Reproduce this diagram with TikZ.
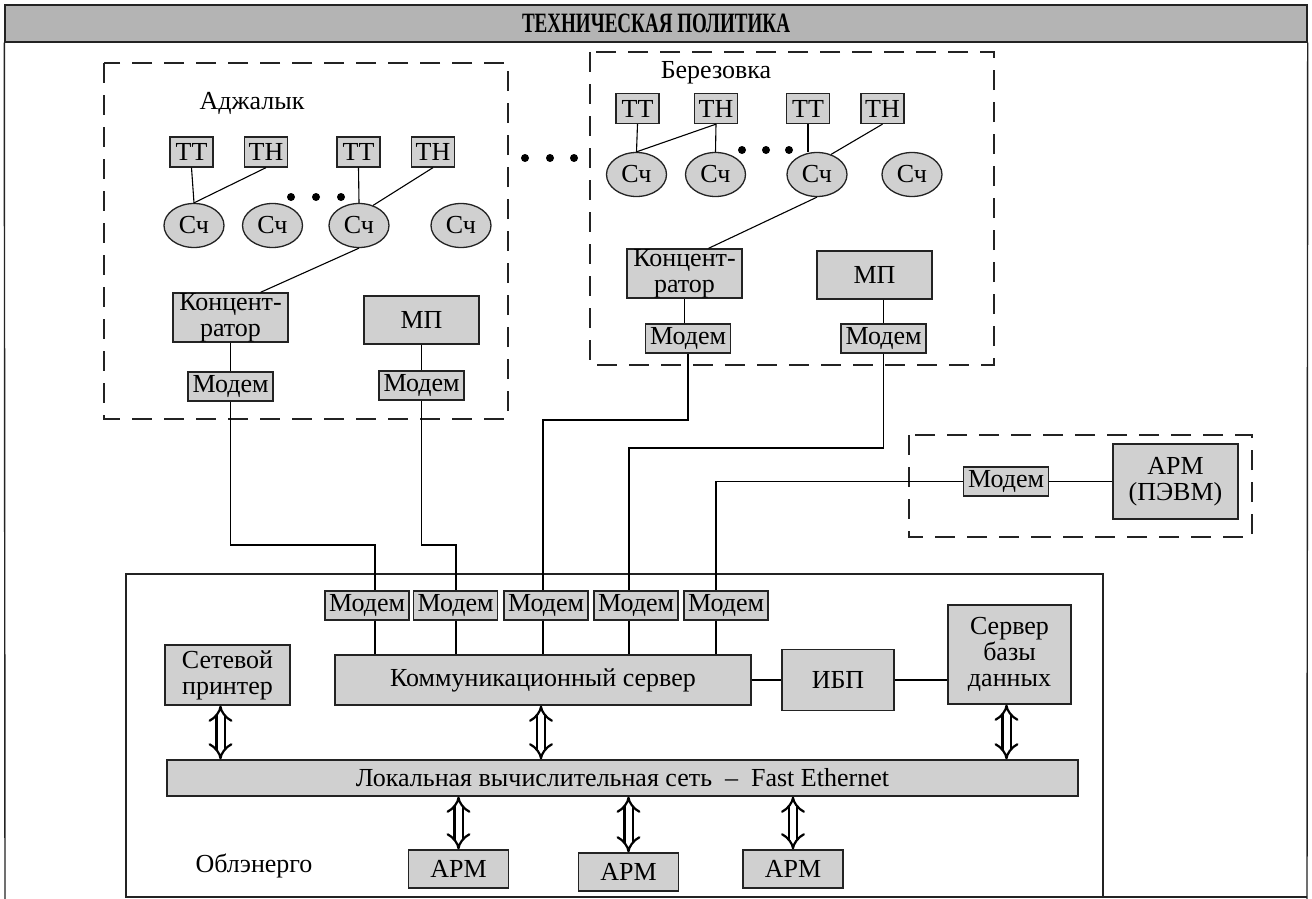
\documentclass[tikz,border=0pt]{standalone}
\usepackage{fontspec}
\setmainfont{Liberation Serif}
\usepackage{graphicx}
\usetikzlibrary{shapes.geometric,arrows.meta}
\definecolor{boxgray}{RGB}{208,208,208}
\definecolor{titlegray}{RGB}{180,180,180}
\definecolor{edgecol}{RGB}{35,35,35}
\newcommand{\lblfont}{\fontsize{26}{26}\selectfont}
\begin{document}
\begin{tikzpicture}[x=1pt,y=-1pt,
  box/.style={draw=edgecol, fill=boxgray, line width=1.3pt, inner sep=0pt, align=center, font=\lblfont},
  sch/.style={ellipse, draw=edgecol, fill=boxgray, line width=1.3pt, inner sep=0pt, minimum width=60pt, minimum height=44pt, font=\lblfont},
  tbox/.style={box, minimum width=43pt, minimum height=30pt},
  modem/.style={box, minimum width=85pt, minimum height=29pt},
  wire/.style={draw=black, line width=1.1pt},
  region/.style={draw=edgecol, line width=1.3pt, dash pattern=on 20pt off 12pt},
  outerline/.style={draw=edgecol, line width=1.4pt},
  dbl/.style={line width=2.2pt, double distance=6pt, {Implies}-{Implies}},
  lbl/.style={font=\lblfont, inner sep=0pt},
  bigdot/.style={circle, fill=black, inner sep=0pt, minimum size=8pt}]
\useasboundingbox (0,0) rectangle (1312,899);
% title and outer frame
\node[draw=edgecol, line width=1.4pt, fill=titlegray, minimum width=1302pt, minimum height=37pt, inner sep=0pt] (title) at (656,23.5) {\scalebox{0.68}[1]{\bfseries\fontsize{28}{28}\selectfont ТЕХНИЧЕСКАЯ ПОЛИТИКА}};
\coordinate (bl) at (5,899);
\coordinate (br) at (1307,899);
\draw[outerline] (title.south west) -- (bl);
\draw[outerline] (title.south east) -- (br);
% regions
\draw[region] (104,63) rectangle (508,419);
\draw[region] (590,52) rectangle (994,365);
\draw[region] (909,435) rectangle (1252,537);
\draw[outerline] (126,574) rectangle (1103,897);
\draw[outerline] (1103,897) -- (1307,897);
% Adzhalyk
\node[lbl] (adj) at (252,103) {Аджалык};
\node[tbox] (att1) at (191.5,152) {ТТ};
\node[tbox] (ath1) at (266,152) {ТН};
\node[tbox] (att2) at (358.5,152) {ТТ};
\node[tbox] (ath2) at (433,152) {ТН};
\node[sch] (asc1) at (194,225.5) {Сч};
\node[sch] (asc2) at (272.5,225.5) {Сч};
\node[sch] (asc3) at (359,225.5) {Сч};
\node[sch] (asc4) at (461,225.5) {Сч};
\node[bigdot] (ad1) at (291,197) {};
\node[bigdot] (ad2) at (316,197) {};
\node[bigdot] (ad3) at (341,197) {};
\node[box, minimum width=115pt, minimum height=49pt] (akonc) at (230.5,317.5) {Концент-\\ратор};
\node[box, minimum width=115pt, minimum height=48pt] (amp) at (421.5,320) {МП};
\node[modem] (am1) at (230.5,386.5) {Модем};
\node[modem] (am2) at (421.5,385.5) {Модем};
\draw[wire] (att1.south) -- (asc1.north);
\draw[wire] (ath1.south) -- (asc1.north);
\draw[wire] (att2.south) -- (asc3.north);
\draw[wire] (ath2.south) -- (asc3.55);
\draw[wire] (asc3.south) -- ([xshift=30pt]akonc.north);
\draw[wire] (akonc.south) -- (am1.north);
\draw[wire] (amp.south) -- (am2.north);
% dots between the sites
\node[bigdot] (md1) at (525,158) {};
\node[bigdot] (md2) at (550,158) {};
\node[bigdot] (md3) at (574,158) {};
% Berezovka
\node[lbl] (ber) at (716,73) {Березовка};
\node[tbox] (btt1) at (637.5,108.5) {ТТ};
\node[tbox] (bth1) at (716,108.5) {ТН};
\node[tbox] (btt2) at (808,108.5) {ТТ};
\node[tbox] (bth2) at (882.5,108.5) {ТН};
\node[sch] (bsc1) at (636.5,174.5) {Сч};
\node[sch] (bsc2) at (715.5,174.5) {Сч};
\node[sch] (bsc3) at (817,174.5) {Сч};
\node[sch] (bsc4) at (912,174.5) {Сч};
\node[bigdot] (bd1) at (742,150) {};
\node[bigdot] (bd2) at (766,150) {};
\node[bigdot] (bd3) at (789,150) {};
\node[box, minimum width=115pt, minimum height=49pt] (bkonc) at (684.5,273.5) {Концент-\\ратор};
\node[box, minimum width=115pt, minimum height=48pt] (bmp) at (874.5,275) {МП};
\node[modem] (bm1) at (688,338.5) {Модем};
\node[modem] (bm2) at (883.5,338.5) {Модем};
\draw[wire] (btt1.south) -- (bsc1.north);
\draw[wire] (bth1.south) -- (bsc1.north);
\draw[wire] (bth1.south) -- (bsc2.north);
\draw[wire] (btt2.south) -- (btt2.south |- bsc3.north);
\draw[wire] (bth2.south) -- (bsc3.55);
\draw[wire] (bsc3.south) -- ([xshift=24pt]bkonc.north);
\draw[wire] (bkonc.south) -- (bkonc.south |- bm1.north);
\draw[wire] (bm2.north |- bmp.south) -- (bm2.north);
% remote workstation
\node[modem] (rm) at (1006,481.5) {Модем};
\node[box, minimum width=125pt, minimum height=75pt] (rapm) at (1175.5,481.5) {АРМ\\(ПЭВМ)};
\draw[wire] (rm.east) -- (rapm.west);
% Oblenergo
\node[lbl] (obl) at (254,866) {Облэнерго};
\node[modem, minimum width=84pt] (om1) at (367,605.5) {Модем};
\node[modem, minimum width=84pt] (om2) at (455.5,605.5) {Модем};
\node[modem, minimum width=84pt] (om3) at (546,605.5) {Модем};
\node[modem, minimum width=84pt] (om4) at (636,605.5) {Модем};
\node[modem, minimum width=84pt] (om5) at (726,605.5) {Модем};
\node[box, minimum width=416pt, minimum height=50pt] (ks) at (543,680) {Коммуникационный сервер};
\node[box, minimum width=125pt, minimum height=60pt] (pr) at (227.5,675) {Сетевой\\принтер};
\node[box, minimum width=112pt, minimum height=61pt] (ibp) at (838,680) {ИБП};
\node[box, minimum width=123pt, minimum height=99pt] (db) at (1009.5,654.5) {Сервер\\базы\\данных};
\node[box, minimum width=911pt, minimum height=36pt] (lan) at (622.5,778) {Локальная вычислительная сеть\enskip--\enskip Fast Ethernet};
\node[box, minimum width=100pt, minimum height=38pt] (apm1) at (458.5,869) {АРМ};
\node[box, minimum width=100pt, minimum height=38pt] (apm2) at (628.5,872) {АРМ};
\node[box, minimum width=100pt, minimum height=38pt] (apm3) at (793,869) {АРМ};
% long connections
\coordinate (c1) at (375,545);
\coordinate (c2) at (456,545);
\coordinate (c3) at (543,420);
\coordinate (c4) at (629,448);
\coordinate (c5) at (716,481.5);
\draw[wire] (am1.south) |- (c1) -- (c1 |- om1.north);
\draw[wire] (am2.south) |- (c2) -- (c2 |- om2.north);
\draw[wire] (bm1.south) |- (c3) -- (c3 |- om3.north);
\draw[wire] (bm2.south) |- (c4) -- (c4 |- om4.north);
\draw[wire] (rm.west) -- (c5) -- (c5 |- om5.north);
\draw[wire] (c1 |- om1.south) -- (c1 |- ks.north);
\draw[wire] (c2 |- om2.south) -- (c2 |- ks.north);
\draw[wire] (c3 |- om3.south) -- (c3 |- ks.north);
\draw[wire] (c4 |- om4.south) -- (c4 |- ks.north);
\draw[wire] (c5 |- om5.south) -- (c5 |- ks.north);
\draw[wire] (ks.east) -- (ibp.west);
\draw[wire] (ibp.east) -- (ibp.east -| db.west);
% double arrows
\draw[dbl] ([xshift=-7pt]pr.south) -- ([xshift=-7pt]pr.south |- lan.north);
\draw[dbl] ([xshift=-2pt]ks.south) -- ([xshift=-2pt]ks.south |- lan.north);
\draw[dbl] ([xshift=-3pt]db.south) -- ([xshift=-3pt]db.south |- lan.north);
\draw[dbl] (lan.south -| apm1.north) -- (apm1.north);
\draw[dbl] (lan.south -| apm2.north) -- (apm2.north);
\draw[dbl] (lan.south -| apm3.north) -- (apm3.north);
\end{tikzpicture}
\end{document}
